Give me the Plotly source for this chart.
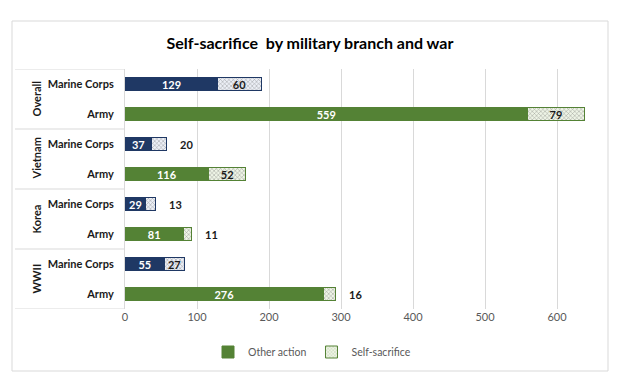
import plotly.graph_objects as go

# ---- data (bottom to top, as in the reference) ----
wars = ["WWII", "Korea", "Vietnam", "Overall"]
row_labels = ["Army", "Marine Corps", "Army", "Marine Corps",
              "Army", "Marine Corps", "Army", "Marine Corps"]
row_branch = ["Army", "Marine Corps"] * 4
other_action = [276, 55, 81, 29, 116, 37, 559, 129]
self_sacrifice = [16, 27, 11, 13, 52, 20, 79, 60]
x_ticks = [0, 100, 200, 300, 400, 500, 600]

# ---- styling ----
FONT = "Lato"
solid = {"Army": "#548235", "Marine Corps": "#1f3864"}
pat_bg = {"Army": "#eef4e6", "Marine Corps": "#eceff6"}
pat_fg = {"Army": "#8aa86c", "Marine Corps": "#7887a6"}

OFF = 8                      # page body margin
FIG_W, FIG_H = 629 - OFF, 390 - OFF
L, R, T, B = 125 - OFF, FIG_W - (593 - OFF), 69 - OFF, FIG_H - (309 - OFF)
X_MAX = 650
plot_w = FIG_W - L - R
plot_h = FIG_H - T - B
px_per_unit = plot_w / X_MAX


def xp(px):  # page px -> paper x
    return (px - OFF - L) / plot_w


def yp(py):  # page px -> paper y
    return (FIG_H - B - (py - OFF)) / plot_h


ys = list(range(len(row_labels)))

fig = go.Figure()

fig.add_trace(go.Bar(
    name="Other action", orientation="h", y=ys, x=other_action, width=0.42,
    marker=dict(color=[solid[b] for b in row_branch],
                line=dict(color=[solid[b] for b in row_branch], width=1)),
    text=[f"<b>{v}</b>" for v in other_action], textposition="inside", textangle=0,
    insidetextanchor="middle", constraintext="none",
    textfont=dict(color="white", size=11, family=FONT),
    hoverinfo="x+name",
))

inside = [v * px_per_unit >= 18 for v in self_sacrifice]
fig.add_trace(go.Bar(
    name="Self-sacrifice", orientation="h", y=ys, x=self_sacrifice, width=0.42,
    marker=dict(color=[pat_bg[b] for b in row_branch],
                line=dict(color=[solid[b] for b in row_branch], width=1),
                pattern=dict(shape="x", size=3, solidity=0.3,
                             fgcolor=[pat_fg[b] for b in row_branch],
                             bgcolor=[pat_bg[b] for b in row_branch])),
    text=[f"<b>{v}</b>" if ok else "" for v, ok in zip(self_sacrifice, inside)],
    textposition="inside", textangle=0, insidetextanchor="middle", constraintext="none",
    textfont=dict(color="#1a1a1a", size=11, family=FONT),
    hoverinfo="x+name",
))

annotations = []
for y, o, s, ok in zip(ys, other_action, self_sacrifice, inside):
    if not ok:
        annotations.append(dict(x=o + s, y=y, xref="x", yref="y", text=f"<b>{s}</b>",
                                showarrow=False, xanchor="left", xshift=12,
                                font=dict(size=11, color="#1a1a1a", family=FONT)))

# group labels (rotated) and separators
shapes = []
for i, war in enumerate(wars):
    annotations.append(dict(x=xp(27), y=2 * i + 0.5, xref="paper", yref="y",
                            text=f"<b>{war}</b>", textangle=-90, showarrow=False,
                            font=dict(size=11, color="#1a1a1a", family=FONT)))
for k in range(len(wars) + 1):
    shapes.append(dict(type="line", xref="paper", yref="y", x0=xp(15), x1=0,
                       y0=2 * k - 0.5, y1=2 * k - 0.5,
                       line=dict(color="#d9d9d9", width=1)))
# chart border
shapes.append(dict(type="rect", xref="paper", yref="paper",
                   x0=xp(12), x1=xp(608), y0=yp(371), y1=yp(21),
                   line=dict(color="#d9d9d9", width=1), layer="below"))

fig.update_layout(
    width=FIG_W, height=FIG_H, barmode="stack",
    margin=dict(l=L, r=R, t=T, b=B, autoexpand=False),
    paper_bgcolor="white", plot_bgcolor="white",
    title=dict(text="<b>Self-sacrifice  by military branch and war</b>",
               x=(310 - OFF) / FIG_W, xanchor="center",
               y=1 - (43 - OFF) / FIG_H, yanchor="middle",
               font=dict(size=16, color="#000000", family=FONT)),
    xaxis=dict(range=[0, X_MAX], tickvals=x_ticks, showgrid=True, gridcolor="#d9d9d9",
               zeroline=False, showline=False, ticks="", automargin=False,
               tickfont=dict(size=11, color="#595959", family=FONT)),
    yaxis=dict(range=[-0.5, len(ys) - 0.5], tickvals=ys,
               ticktext=[f"<b>{t}</b>" for t in row_labels],
               showgrid=False, zeroline=False, showline=True, linecolor="#d9d9d9",
               ticks="", ticklabelstandoff=8, automargin=False,
               tickfont=dict(size=11, color="#1a1a1a", family=FONT)),
    legend=dict(orientation="h", xref="container", yref="container",
                x=(312 - OFF) / FIG_W, xanchor="center",
                y=1 - (352 - OFF) / FIG_H, yanchor="middle",
                font=dict(size=10.5, color="#595959", family=FONT),
                itemwidth=30, traceorder="normal"),
    annotations=annotations, shapes=shapes,
    uniformtext=dict(minsize=11, mode="show"),
)

fig.write_html("out.html")
